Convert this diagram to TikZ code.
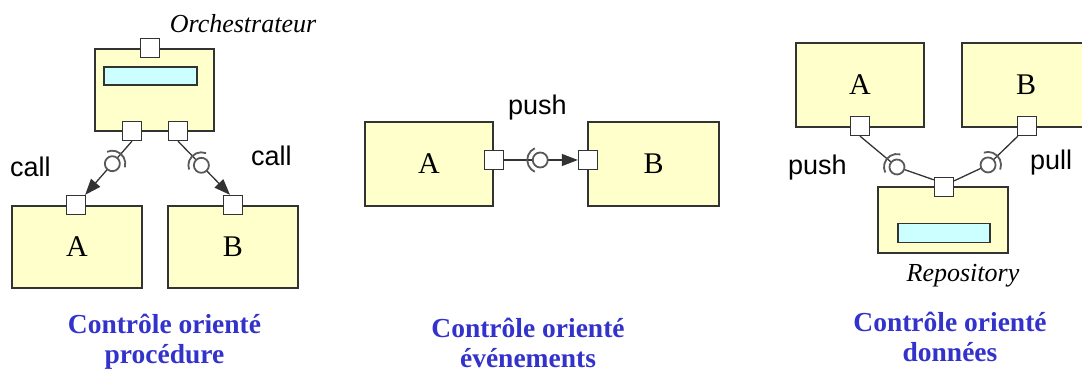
\documentclass[tikz,border=0pt]{standalone}
\usepackage{fontspec}
\setmainfont{Liberation Serif}
\setsansfont{Liberation Sans}
\usetikzlibrary{arrows.meta,decorations.markings,calc}

\definecolor{compfill}{HTML}{FFFFCC}
\definecolor{barfill}{HTML}{CCFFFF}
\definecolor{edge}{HTML}{333333}
\definecolor{captionblue}{HTML}{3333CC}

\begin{document}
\begin{tikzpicture}[x=1pt,y=1pt,
  comp/.style={draw=edge, fill=compfill, line width=1.4pt, inner sep=0pt,
    font=\fontsize{30}{30}\selectfont},
  bar/.style={draw=edge, fill=barfill, line width=1.3pt, inner sep=0pt},
  port/.style={draw=edge, fill=white, line width=1.3pt, minimum size=19pt, inner sep=0pt},
  conn/.style={draw=edge, line width=1.3pt},
  withtip/.style={-{Triangle[length=16pt,width=12pt]}},
  socket/.style={-, draw=black!65, line width=1.8pt},
  ballsock/.style={postaction={decorate, decoration={markings,
    mark=at position #1 with {
      \draw[socket] (115:13pt) arc[start angle=115, end angle=245, radius=13pt];
      \draw[socket, fill=white] (0,0) circle[radius=7.5pt];}}}},
  lbl/.style={font=\sffamily\fontsize{27}{27}\selectfont, inner sep=0pt},
  role/.style={font=\itshape\fontsize{26}{26}\selectfont, inner sep=0pt},
  captext/.style={font=\bfseries\fontsize{27.5}{30}\selectfont, text=captionblue, inner sep=0pt}]

\useasboundingbox (0,0) rectangle (1082,374);
\clip (0,0) rectangle (1082,374);

% ---------- procedure-oriented control ----------
\node[comp, minimum width=119pt, minimum height=82pt] (orch) at (154.5,284) {};
\node[bar, minimum width=93pt, minimum height=18pt] (orchbar) at (150.5,298) {};
\node[comp, minimum width=130pt, minimum height=82pt] (lA) at (77,127) {A};
\node[comp, minimum width=130pt, minimum height=82pt] (lB) at (233,127) {B};
\node[port] (oT) at (150,326) {};
\node[port] (oBL) at (132,243) {};
\node[port] (oBR) at (178,243) {};
\node[port] (lAp) at (76,169) {};
\node[port] (lBp) at (233,169) {};
\draw[conn, withtip, ballsock=0.42] (oBL.south) -- ([xshift=-1pt]lAp.north east);
\draw[conn, withtip, ballsock=0.45] (oBR.south) -- ([xshift=-3pt]lBp.north);
\node[role] (orchlbl) at (243,350) {Orchestrateur};
\node[lbl, anchor=base west] (callA) at (10,197) {call};
\node[lbl, anchor=base west] (callB) at (251,208) {call};

% ---------- event-oriented control ----------
\node[comp, minimum width=128pt, minimum height=84pt] (mA) at (429,210) {A};
\node[comp, minimum width=131pt, minimum height=84pt] (mB) at (653.5,210) {B};
\node[port] (mAp) at (494,214) {};
\node[port] (mBp) at (588,214) {};
\draw[conn, withtip, ballsock=0.49] (mAp.east) -- (mBp.west);
\node[lbl, anchor=base west] (pushM) at (508,259) {push};

% ---------- data-oriented control ----------
\node[comp, minimum width=128pt, minimum height=84pt] (rA) at (860,289) {A};
\node[comp, minimum width=128pt, minimum height=84pt] (rB) at (1026,289) {B};
\node[comp, minimum width=130pt, minimum height=66pt] (rR) at (943,154) {};
\node[bar, minimum width=92pt, minimum height=19pt] (rRbar) at (944,141) {};
\node[port] (rAp) at (860,248) {};
\node[port] (rBp) at (1027,248) {};
\node[port] (rRp) at (944,187) {};
\coordinate (ballA) at (897,207);
\coordinate (ballB) at (988,209);
\draw[conn] (rAp.south) -- (ballA) -- ([yshift=-3pt]rRp.north west);
\draw[conn] ([xshift=1pt]rBp.south west) -- (ballB) -- ([yshift=-4pt]rRp.north east);
\path[ballsock=0.5] (rAp.south) -- ($(rAp.south)!2!(ballA)$);
\path[ballsock=0.5] ([xshift=1pt]rBp.south west) -- ($([xshift=1pt]rBp.south west)!2!(ballB)$);
\node[lbl, anchor=base west] (pushR) at (788,199) {push};
\node[lbl, anchor=base west] (pullR) at (1030,204) {pull};
\node[role, anchor=base] (repolbl) at (963,92) {Repository};

% ---------- captions ----------
\node[captext, anchor=base] (c1a) at (164.5,40) {Contrôle orienté};
\node[captext, anchor=base] (c1b) at (164.5,10) {procédure};
\node[captext, anchor=base] (c2a) at (528,36) {Contrôle orienté};
\node[captext, anchor=base] (c2b) at (528,6) {événements};
\node[captext, anchor=base] (c3a) at (950,42) {Contrôle orienté};
\node[captext, anchor=base] (c3b) at (950,12) {données};
\end{tikzpicture}
\end{document}
